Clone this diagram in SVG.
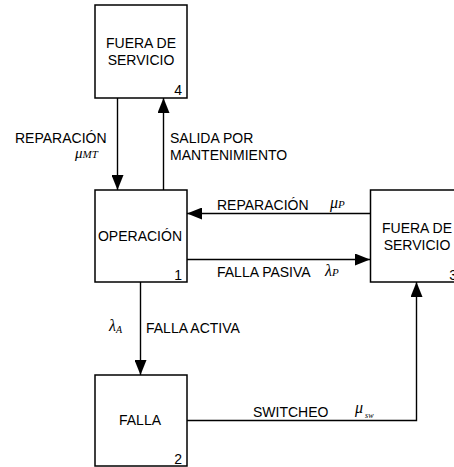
<svg xmlns="http://www.w3.org/2000/svg" width="454" height="467" viewBox="0 0 454 467">
<style>
.box{fill:#fff;stroke:#000;stroke-width:1.5}
.ln{fill:none;stroke:#000;stroke-width:1.4}
.t{font-family:"Liberation Sans",Arial,sans-serif;font-size:14px;fill:#000}
.m{font-family:"Liberation Serif","Times New Roman",serif;font-style:italic;fill:#000}
</style>
<defs>
<marker id="ah" markerUnits="userSpaceOnUse" markerWidth="16" markerHeight="12" viewBox="0 0 16 12" refX="15" refY="6" orient="auto">
<path d="M0,0 L15,6 L0,12 Z" fill="#000"/>
</marker>
</defs>
<rect width="454" height="467" fill="#fff"/>
<g id="connectors">
<line class="ln" x1="117.5" y1="98" x2="117.5" y2="190" marker-end="url(#ah)"/>
<line class="ln" x1="163.5" y1="190" x2="163.5" y2="98" marker-end="url(#ah)"/>
<line class="ln" x1="370" y1="213.5" x2="187" y2="213.5" marker-end="url(#ah)"/>
<line class="ln" x1="187" y1="259.5" x2="370" y2="259.5" marker-end="url(#ah)"/>
<line class="ln" x1="140.5" y1="282" x2="140.5" y2="375" marker-end="url(#ah)"/>
<polyline class="ln" points="187,420.5 416.5,420.5 416.5,282" marker-end="url(#ah)"/>
<text class="t" x="15" y="143">REPARACIÓN</text>
<text class="m" x="75" y="158" font-size="15">μ<tspan font-size="11">MT</tspan></text>
<text class="t" x="170" y="143">SALIDA POR</text>
<text class="t" x="170" y="160">MANTENIMIENTO</text>
<text class="t" x="217" y="210">REPARACIÓN</text>
<text class="m" x="330" y="208" font-size="16">μ<tspan font-size="11">P</tspan></text>
<text class="t" x="217" y="277">FALLA PASIVA</text>
<text class="m" x="325" y="276" font-size="16">λ<tspan font-size="11">P</tspan></text>
<text class="m" x="109" y="331" font-size="16">λ<tspan font-size="10" dy="2">A</tspan></text>
<text class="t" x="146" y="333">FALLA ACTIVA</text>
<text class="t" x="253" y="417">SWITCHEO</text>
<text class="m" x="355" y="413" font-size="16">μ<tspan font-size="8" dy="5" dx="2">sw</tspan></text>
</g>
<g id="node4">
<rect class="box" x="95" y="5" width="92" height="93"/>
<text class="t" x="141" y="48" text-anchor="middle">FUERA DE</text>
<text class="t" x="141" y="65" text-anchor="middle">SERVICIO</text>
<text class="t" x="182" y="95" text-anchor="end">4</text>
</g>
<g id="node1">
<rect class="box" x="95" y="190" width="92" height="92"/>
<text class="t" x="140" y="241" text-anchor="middle">OPERACIÓN</text>
<text class="t" x="182" y="280" text-anchor="end">1</text>
</g>
<g id="node3">
<rect class="box" x="370.5" y="190" width="92" height="92"/>
<text class="t" x="417" y="233" text-anchor="middle">FUERA DE</text>
<text class="t" x="417" y="250" text-anchor="middle">SERVICIO</text>
<text class="t" x="457" y="280" text-anchor="end">3</text>
</g>
<g id="node2">
<rect class="box" x="95" y="375" width="92" height="91"/>
<text class="t" x="140" y="425" text-anchor="middle">FALLA</text>
<text class="t" x="182" y="464" text-anchor="end">2</text>
</g>
</svg>
